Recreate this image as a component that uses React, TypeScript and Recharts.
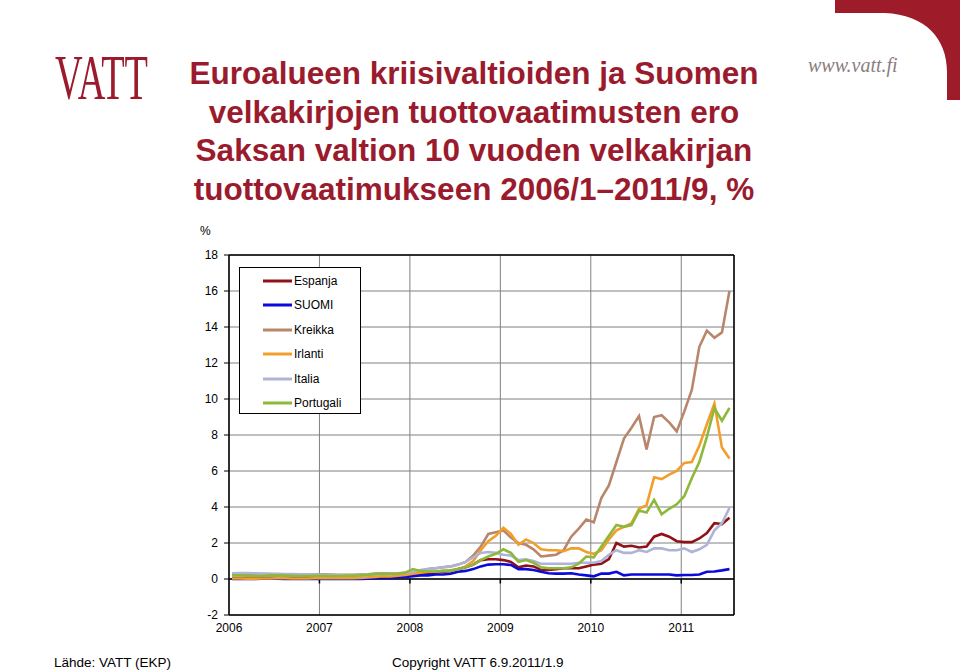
import React from 'react';
import { LineChart, Line, XAxis, YAxis, CartesianGrid, ReferenceLine, Legend } from 'recharts';

const yearLabels = ['2006', '2007', '2008', '2009', '2010', '2011'];
const yTicks = [-2, 0, 2, 4, 6, 8, 10, 12, 14, 16, 18];

// monthly values 2006/1 ... 2011/7
const espanja = [
  0.05, 0.05, 0.04, 0.04, 0.05, 0.06, 0.06, 0.05, 0.05, 0.04, 0.04, 0.04,
  0.04, 0.04, 0.03, 0.03, 0.04, 0.05, 0.07, 0.1, 0.12, 0.1, 0.12, 0.15,
  0.2, 0.25, 0.3, 0.35, 0.4, 0.45, 0.55, 0.65, 0.8, 1.05, 1.1, 1.1,
  1.05, 0.95, 0.65, 0.75, 0.7, 0.5, 0.5, 0.55, 0.6, 0.6, 0.6, 0.7,
  0.8, 0.85, 1.1, 2.0, 1.8, 1.85, 1.75, 1.8, 2.35, 2.5, 2.35, 2.1,
  2.05, 2.05, 2.25, 2.55, 3.1, 3.05, 3.4,
];
const suomi = [
  0, 0, 0, 0, 0.01, 0.01, 0.01, 0, 0, 0, 0, 0,
  0, 0, 0, 0, 0, 0, 0.02, 0.05, 0.08, 0.06, 0.1, 0.12,
  0.15, 0.2, 0.2, 0.25, 0.25, 0.3, 0.4, 0.45, 0.55, 0.7, 0.8, 0.82,
  0.82, 0.78, 0.55, 0.55, 0.5, 0.4, 0.32, 0.3, 0.3, 0.32, 0.25, 0.2,
  0.15, 0.3, 0.3, 0.4, 0.2, 0.25, 0.25, 0.25, 0.25, 0.25, 0.25, 0.2,
  0.22, 0.22, 0.25, 0.4, 0.42, 0.48, 0.55,
];
const kreikka = [
  0.3, 0.3, 0.28, 0.27, 0.27, 0.26, 0.27, 0.26, 0.25, 0.24, 0.24, 0.25,
  0.26, 0.25, 0.24, 0.24, 0.24, 0.25, 0.26, 0.3, 0.32, 0.3, 0.32, 0.35,
  0.35, 0.45, 0.55, 0.6, 0.65, 0.7, 0.8, 0.95, 1.3, 1.8, 2.5, 2.6,
  2.7, 2.3, 2.0, 1.9, 1.65, 1.25, 1.3, 1.35, 1.6, 2.35, 2.8, 3.3,
  3.15, 4.5, 5.2, 6.5, 7.8, 8.4, 9.05, 7.2, 9.0, 9.1, 8.7, 8.2,
  9.3, 10.5, 12.9, 13.8, 13.4, 13.7, 16.0,
];
const irlanti = [
  0.03, 0.03, 0.02, 0.02, 0.03, 0.03, 0.04, 0.04, 0.03, 0.03, 0.03, 0.04,
  0.04, 0.04, 0.04, 0.04, 0.05, 0.06, 0.08, 0.12, 0.15, 0.14, 0.18, 0.22,
  0.3, 0.35, 0.4, 0.4, 0.45, 0.45, 0.55, 0.7, 1.0, 1.6, 2.1, 2.4,
  2.85, 2.5, 1.9, 2.2, 2.0, 1.65, 1.6, 1.6, 1.55, 1.7, 1.7, 1.5,
  1.4, 1.6, 2.2, 2.7, 2.9, 3.1, 3.9, 4.1, 5.65, 5.55, 5.8, 6.0,
  6.45, 6.5, 7.4, 8.6, 9.75, 7.3, 6.7,
];
const italia = [
  0.32, 0.33, 0.33, 0.32, 0.3, 0.3, 0.28, 0.28, 0.27, 0.26, 0.26, 0.25,
  0.24, 0.22, 0.21, 0.21, 0.2, 0.2, 0.22, 0.27, 0.3, 0.28, 0.3, 0.33,
  0.4, 0.5, 0.55, 0.6, 0.65, 0.7, 0.8, 0.95, 1.2, 1.45, 1.5, 1.45,
  1.35, 1.3, 1.05, 1.1, 1.0, 0.85, 0.85, 0.85, 0.85, 0.85, 0.9, 0.9,
  0.9, 1.0, 1.35, 1.6, 1.45, 1.45, 1.6, 1.5, 1.7, 1.7, 1.6, 1.6,
  1.7, 1.5, 1.65, 1.9, 2.7, 3.1, 3.95,
];
const portugali = [
  0.2, 0.2, 0.18, 0.17, 0.18, 0.2, 0.2, 0.19, 0.18, 0.17, 0.17, 0.18,
  0.18, 0.17, 0.17, 0.18, 0.19, 0.2, 0.22, 0.27, 0.3, 0.28, 0.3, 0.35,
  0.55, 0.45, 0.42, 0.42, 0.45, 0.48, 0.55, 0.65, 0.8, 1.05, 1.25, 1.4,
  1.65, 1.45, 0.95, 1.05, 0.9, 0.65, 0.6, 0.6, 0.6, 0.65, 0.85, 1.25,
  1.2, 1.8, 2.4, 3.0, 2.9, 3.0, 3.8, 3.7, 4.4, 3.6, 3.9, 4.15,
  4.6, 5.6, 6.5, 7.9, 9.5, 8.8, 9.5,
];

const seriesMeta = [
  { key: 'Espanja', color: '#8F1218', values: espanja },
  { key: 'SUOMI', color: '#0A0ADC', values: suomi },
  { key: 'Kreikka', color: '#B8876B', values: kreikka },
  { key: 'Irlanti', color: '#F29E2B', values: irlanti },
  { key: 'Italia', color: '#AEB4D6', values: italia },
  { key: 'Portugali', color: '#8DB93A', values: portugali },
];

const data = espanja.map((_, i) => {
  const row: Record<string, number> = { t: i + 0.4 };
  seriesMeta.forEach((s) => {
    row[s.key] = s.values[i];
  });
  return row;
});

const titleLines = [
  'Euroalueen kriisivaltioiden ja Suomen',
  'velkakirjojen tuottovaatimusten ero',
  'Saksan valtion 10 vuoden velkakirjan',
  'tuottovaatimukseen 2006/1\u20132011/9, %',
];

const sourceText = 'L\u00e4hde: VATT (EKP)';
const copyrightText = 'Copyright VATT 6.9.2011/1.9';

const FONT = '"Liberation Sans", Arial, Helvetica, sans-serif';
const RED = '#9B1B2E';

const LegendBox = () => (
  <div
    style={{
      width: 122,
      height: 147,
      boxSizing: 'border-box',
      border: '1px solid #000',
      background: '#fff',
      position: 'relative',
      fontFamily: FONT,
      fontSize: 12,
    }}
  >
    {seriesMeta.map((s, i) => (
      <div
        key={s.key}
        style={{ position: 'absolute', left: 23, top: 5 + i * 24.4, height: 16, display: 'flex', alignItems: 'center' }}
      >
        <svg width={29} height={4} style={{ display: 'block' }}>
          <line x1={0} y1={2} x2={29} y2={2} stroke={s.color} strokeWidth={3} />
        </svg>
        <span style={{ marginLeft: 2, color: '#000', whiteSpace: 'nowrap' }}>{s.key}</span>
      </div>
    ))}
  </div>
);

export default function App() {
  return (
    <div style={{ position: 'absolute', left: 0, top: 0, width: 960, height: 672, background: '#fff', fontFamily: FONT, overflow: 'hidden' }}>
      <svg width={960} height={672} style={{ position: 'absolute', left: 0, top: 0 }}>
        <path d="M835,0 L960,0 L960,100 L947,100 L947,72 C947,38 925,15 885,13 L835,13 Z" fill="#9E1C2A" />
        <text x={55} y={99} fontFamily='"Liberation Serif", "Times New Roman", serif' fontSize={64} fill={RED} textLength={93} lengthAdjust="spacingAndGlyphs">
          VATT
        </text>
        <text x={808} y={72} fontFamily='"Liberation Serif", "Times New Roman", serif' fontStyle="italic" fontSize={20} fill="#8A7E80">
          www.vatt.fi
        </text>
        {titleLines.map((l, i) => (
          <text
            key={i}
            x={474}
            y={84 + i * 38.6}
            textAnchor="middle"
            fontFamily={FONT}
            fontWeight="bold"
            fontSize={31.5}
            fill={RED}
          >
            {l}
          </text>
        ))}
        <text x={200} y={235} fontFamily={FONT} fontSize={12} fill="#000">%</text>
        <text x={54} y={667} fontFamily={FONT} fontSize={13.5} fill="#000">{sourceText}</text>
        <text x={392} y={667} fontFamily={FONT} fontSize={13.5} fill="#000">{copyrightText}</text>
      </svg>
      <div style={{ position: 'absolute', left: 0, top: 0 }}>
        <LineChart width={960} height={672} data={data} margin={{ top: 255, right: 226, bottom: 27, left: 199 }}>
          <CartesianGrid stroke="#808080" strokeWidth={1} />
          <XAxis
            dataKey="t"
            type="number"
            domain={[0, 67]}
            ticks={[0, 12, 24, 36, 48, 60]}
            tickFormatter={(v: number) => yearLabels[Math.round(v / 12)]}
            axisLine={{ stroke: '#000', strokeWidth: 1.5 }}
            tickLine={false}
            tickSize={4}
            tickMargin={4}
            height={30}
            tick={{ fontSize: 12, fill: '#000', fontFamily: FONT }}
            allowDataOverflow
          />
          <YAxis
            type="number"
            domain={[-2, 18]}
            ticks={yTicks}
            axisLine={{ stroke: '#000', strokeWidth: 1.5 }}
            tickLine={{ stroke: '#000' }}
            tickSize={5}
            tickMargin={6}
            width={30}
            interval={0}
            tick={{ fontSize: 12, fill: '#000', fontFamily: FONT }}
            allowDataOverflow
          />
          <ReferenceLine y={0} stroke="#000" strokeWidth={1.5} />
          <ReferenceLine y={18} stroke="#000" strokeWidth={1.5} />
          <ReferenceLine x={67} stroke="#000" strokeWidth={1.5} />
          {[12, 24, 36, 48, 60].map((x) => (
            <ReferenceLine key={x} segment={[{ x, y: 0 }, { x, y: -0.25 }]} stroke="#000" strokeWidth={1.5} />
          ))}
          {seriesMeta.map((s) => (
            <Line
              key={s.key}
              type="linear"
              dataKey={s.key}
              stroke={s.color}
              strokeWidth={2.6}
              dot={false}
              isAnimationActive={false}
            />
          ))}
          <Legend
            layout="vertical"
            align="center"
            verticalAlign="middle"
            content={() => <LegendBox />}
            wrapperStyle={{ left: 239, top: 267, width: 122, height: 147 }}
          />
        </LineChart>
      </div>
    </div>
  );
}
